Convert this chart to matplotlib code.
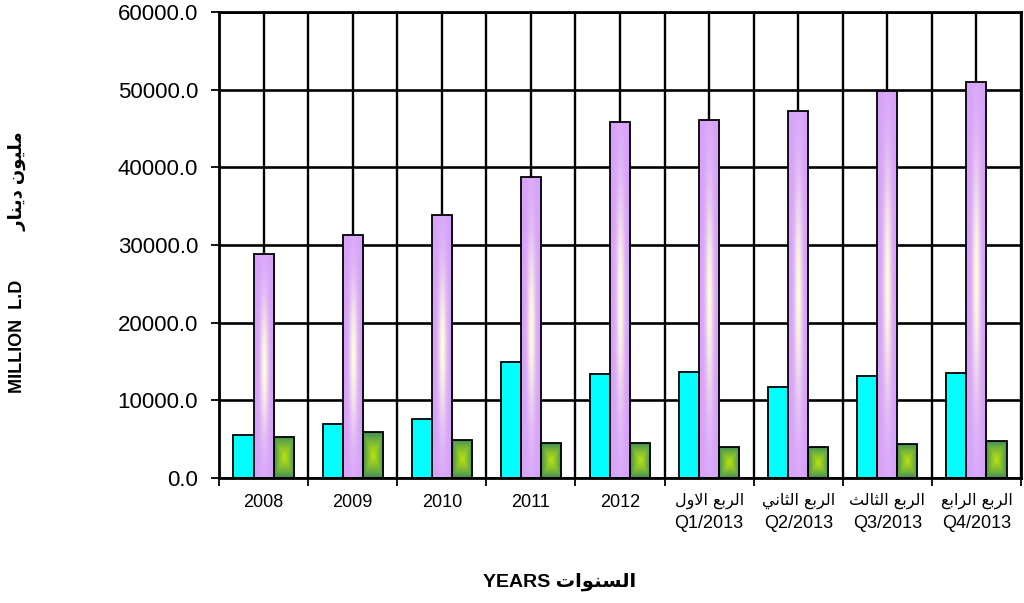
import matplotlib
matplotlib.use("Agg")
import matplotlib.pyplot as plt
import numpy as np
from matplotlib.ticker import FixedLocator, FormatStrFormatter, MultipleLocator

plt.rcParams["font.family"] = ["Liberation Sans", "DejaVu Sans"]

years = ["2008", "2009", "2010", "2011", "2012"]
quarters_ar = ["الربع الاول", "الربع الثاني", "الربع الثالث", "الربع الرابع"]
quarters = ["Q1/2013", "Q2/2013", "Q3/2013", "Q4/2013"]

cyan_vals = [5500, 6900, 7600, 14900, 13450, 13700, 11750, 13150, 13500]
purple_vals = [28900, 31300, 33800, 38700, 45900, 46050, 47300, 49800, 51000]
green_vals = [5300, 5900, 4900, 4450, 4450, 3950, 3950, 4350, 4750]

ylabel_en = "MILLION  L.D"
ylabel_ar = "مليون دينار"
xlabel_en = "YEARS"
xlabel_ar = "السنوات"

# matplotlib has no arabic shaping, so pick presentation forms by hand
AR_FORMS = {
    "ا": (0xFE8D, 0xFE8E, None, None),
    "ب": (0xFE8F, 0xFE90, 0xFE91, 0xFE92),
    "ت": (0xFE95, 0xFE96, 0xFE97, 0xFE98),
    "ث": (0xFE99, 0xFE9A, 0xFE9B, 0xFE9C),
    "د": (0xFEA9, 0xFEAA, None, None),
    "ر": (0xFEAD, 0xFEAE, None, None),
    "س": (0xFEB1, 0xFEB2, 0xFEB3, 0xFEB4),
    "ع": (0xFEC9, 0xFECA, 0xFECB, 0xFECC),
    "ل": (0xFEDD, 0xFEDE, 0xFEDF, 0xFEE0),
    "م": (0xFEE1, 0xFEE2, 0xFEE3, 0xFEE4),
    "ن": (0xFEE5, 0xFEE6, 0xFEE7, 0xFEE8),
    "و": (0xFEED, 0xFEEE, None, None),
    "ي": (0xFEF1, 0xFEF2, 0xFEF3, 0xFEF4),
    "\uFEFB": (0xFEFB, 0xFEFC, None, None),  # lam-alef
}


def ar(text):
    text = text.replace("لا", "\uFEFB")
    out = []
    for i, ch in enumerate(text):
        if ch not in AR_FORMS:
            out.append(ch)
            continue
        iso, fin, ini, med = AR_FORMS[ch]
        prev = text[i - 1] if i > 0 else ""
        nxt = text[i + 1] if i + 1 < len(text) else ""
        jp = prev in AR_FORMS and AR_FORMS[prev][2] is not None
        jn = ini is not None and nxt in AR_FORMS
        if jp and jn:
            c = med
        elif jp:
            c = fin
        elif jn:
            c = ini
        else:
            c = iso
        out.append(chr(c))
    return "".join(reversed(out))


def gradient(edge, center, kind):
    u = np.linspace(-1, 1, 60)[None, :]
    v = np.linspace(-1, 1, 300)[:, None]
    if kind == "rect":
        w = 1 - np.maximum(np.abs(u), np.abs(v))
        w = w ** 0.8
    else:
        w = np.exp(-(u / 0.38) ** 2 - (v / 0.62) ** 2)
    w = np.clip(w, 0, 1)[..., None]
    edge = np.array(matplotlib.colors.to_rgb(edge))
    center = np.array(matplotlib.colors.to_rgb(center))
    return edge * (1 - w) + center * w


n = len(years) + len(quarters)
x = np.arange(n)
bw = 0.225

fig = plt.figure(figsize=(10.24, 6.03), dpi=100)
ax = fig.add_axes([219 / 1024, 1 - 478 / 603, 802 / 1024, 466 / 603])

ax.bar(x - bw, cyan_vals, bw, color="#00ffff", edgecolor="black", linewidth=1.3, zorder=3)
purple_bars = ax.bar(x, purple_vals, bw, color="none", edgecolor="black", linewidth=1.3, zorder=4)
green_bars = ax.bar(x + bw, green_vals, bw, color="none", edgecolor="black", linewidth=1.3, zorder=4)

purple_img = gradient("#d7a3fa", "#fffde0", "soft")
green_img = gradient("#3a8a5c", "#b8e210", "rect")
for bars, img in ((purple_bars, purple_img), (green_bars, green_img)):
    for p in bars:
        x0, w, h = p.get_x(), p.get_width(), p.get_height()
        im = ax.imshow(img, extent=[x0, x0 + w, 0, h], origin="lower",
                       aspect="auto", zorder=3.5, interpolation="bilinear")
        im.set_clip_path(p)

ax.set_xlim(-0.5, n - 0.5)
ax.set_ylim(0, 60000)

ax.xaxis.set_major_locator(FixedLocator(np.arange(n + 1) - 0.5))
ax.xaxis.set_minor_locator(FixedLocator(x))
ax.set_xticklabels([])
ax.tick_params(axis="x", which="major", direction="out", length=6, width=1.3)
ax.tick_params(axis="x", which="minor", length=0)

# category labels drawn by hand: arabic line and latin line need different sizes
tr = ax.get_xaxis_transform()
for i, yr in enumerate(years):
    ax.text(x[i], -0.0616, yr, transform=tr, ha="center", va="baseline", fontsize=13)
for j, (qa, q) in enumerate(zip(quarters_ar, quarters)):
    i = len(years) + j
    ax.text(x[i], -0.057, ar(qa), transform=tr, ha="center", va="baseline",
            fontsize=11.5, family="DejaVu Sans")
    ax.text(x[i], -0.1073, q, transform=tr, ha="center", va="baseline", fontsize=13)

ax.yaxis.set_major_locator(MultipleLocator(10000))
ax.yaxis.set_major_formatter(FormatStrFormatter("%.1f"))
ax.tick_params(axis="y", direction="out", length=6, width=1.3, pad=9, labelsize=16)

ax.set_axisbelow(True)
ax.grid(True, which="both", axis="x", color="black", linewidth=1.7)
ax.grid(True, which="major", axis="y", color="black", linewidth=1.9)
for s in ax.spines.values():
    s.set_linewidth(2)
    s.set_zorder(5)

fig.text(17 / 1024, 1 - 262 / 603, ylabel_en + " " * 10 + ar(ylabel_ar),
         rotation=90, ha="center", va="center", fontsize=13, fontweight="bold")
fig.text(560 / 1024, 1 - 582 / 603, xlabel_en + " " + ar(xlabel_ar),
         ha="center", va="center", fontsize=14, fontweight="bold")

fig.savefig("out.png", dpi=100)
